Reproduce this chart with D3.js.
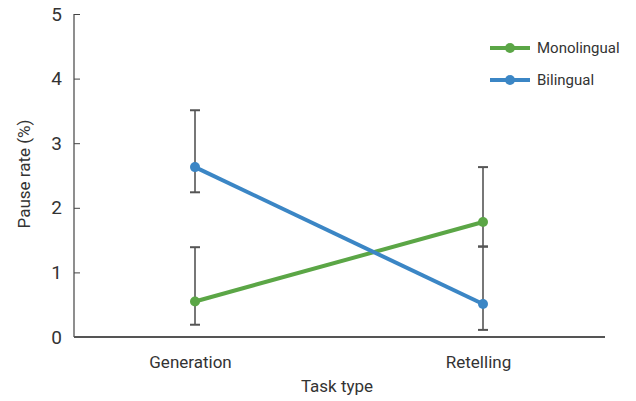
<!DOCTYPE html>
<html><head><meta charset="utf-8">
<script src="https://cdn.jsdelivr.net/npm/d3@7"></script>
<style>body{margin:0;background:#fff}text{font-family:"Roboto",sans-serif;fill:#333}</style>
</head><body><svg id="c" width="636" height="401"></svg>
<script>
const categories = ["Generation", "Retelling"];
const seriesNames = ["Monolingual", "Bilingual"];
const monolingual = [0.55, 1.78];
const bilingual = [2.63, 0.51];
const monoLow = [0.19, 1.40];
const monoHigh = [1.39, 2.63];
const biLow = [2.24, 0.11];
const biHigh = [3.51, 1.40];
const yTicks = [0, 1, 2, 3, 4, 5];
const colors = ["#5ba646", "#3b86c5"];

const svg = d3.select("#c");
const x = d3.scalePoint().domain(categories).range([195, 483]);
const y = d3.scaleLinear().domain([0, 5]).range([337, 14]);
const font = '"Roboto",sans-serif';

// y axis
const ya = svg.append("g").attr("transform", "translate(74,0)")
  .call(d3.axisLeft(y).tickValues(yTicks).tickSize(-6).tickPadding(12).tickFormat(d3.format("d")));
ya.select(".domain").attr("stroke", "#444").attr("stroke-width", 1.2).attr("d", "M0,14V337");
ya.selectAll(".tick line").attr("stroke", "#444");
ya.selectAll(".tick text").attr("font-size", 19).attr("font-family", font).attr("fill", "#333");

// x axis
const xa = svg.append("g").attr("transform", "translate(0,337)")
  .call(d3.axisBottom(x).tickSize(0).tickPadding(19));
xa.select(".domain").attr("stroke", "#555").attr("stroke-width", 2).attr("d", "M74,0H605");
xa.selectAll(".tick text").attr("font-size", 17).attr("font-family", font).attr("fill", "#333").attr("dx", -5);

// titles
svg.append("text").attr("x", 337).attr("y", 392).attr("text-anchor", "middle")
  .attr("font-size", 17).text("Task type");
svg.append("text").attr("transform", "translate(30,174) rotate(-90)").attr("text-anchor", "middle")
  .attr("font-size", 17).text("Pause rate (%)");

const series = [
  {name: seriesNames[0], vals: monolingual, lo: monoLow, hi: monoHigh, color: colors[0]},
  {name: seriesNames[1], vals: bilingual, lo: biLow, hi: biHigh, color: colors[1]}
];

// error bars
series.forEach(s => {
  const g = svg.append("g");
  categories.forEach((c, i) => {
    const cx = x(c);
    g.append("line").attr("x1", cx).attr("x2", cx).attr("y1", y(s.lo[i])).attr("y2", y(s.hi[i]))
      .attr("stroke", "#555").attr("stroke-width", 1.6);
    [s.lo[i], s.hi[i]].forEach(v => {
      g.append("line").attr("x1", cx - 5).attr("x2", cx + 5).attr("y1", y(v)).attr("y2", y(v))
        .attr("stroke", "#555").attr("stroke-width", 2);
    });
  });
});

// lines
const line = d3.line().x((d, i) => x(categories[i])).y(d => y(d));
series.forEach(s => {
  svg.append("path").datum(s.vals).attr("d", line).attr("fill", "none")
    .attr("stroke", s.color).attr("stroke-width", 4);
  svg.selectAll(null).data(s.vals).enter().append("circle")
    .attr("cx", (d, i) => x(categories[i])).attr("cy", d => y(d)).attr("r", 5).attr("fill", s.color);
});

// legend
series.forEach((s, i) => {
  const ly = 48 + i * 32;
  svg.append("line").attr("x1", 490).attr("x2", 530).attr("y1", ly).attr("y2", ly)
    .attr("stroke", s.color).attr("stroke-width", 4);
  svg.append("circle").attr("cx", 510).attr("cy", ly).attr("r", 5).attr("fill", s.color);
  svg.append("text").attr("x", 537).attr("y", ly + 5).attr("font-size", 15).text(s.name);
});
</script></body></html>
